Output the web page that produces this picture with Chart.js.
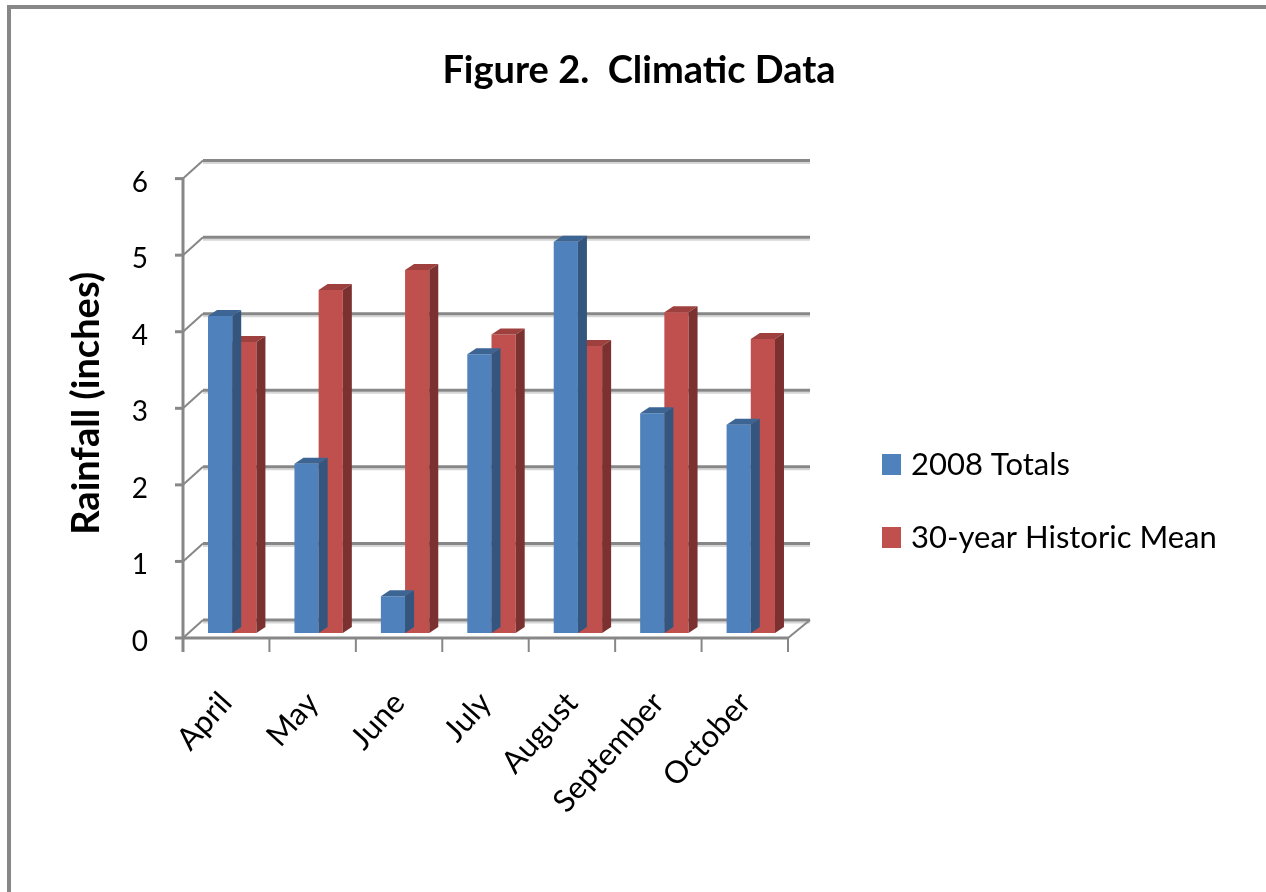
<!DOCTYPE html>
<html>
<head>
<meta charset="utf-8">
<script src="https://cdn.jsdelivr.net/npm/chart.js@4.4.1/dist/chart.umd.min.js"></script>
<style>
  html, body { margin: 0; padding: 0; background: #fff; }
  #wrap { width: 1266px; height: 892px; position: relative; }
</style>
</head>
<body>
<div id="wrap"><canvas id="rainChart"></canvas></div>
<script>
// Rainfall data (inches)
const months = ['April', 'May', 'June', 'July', 'August', 'September', 'October'];
const totals2008 = [4.14, 2.21, 0.48, 3.64, 5.11, 2.87, 2.72];
const historicMean = [3.80, 4.48, 4.74, 3.90, 3.75, 4.19, 3.84];
const seriesNames = ['2008 Totals', '30-year Historic Mean'];
const yMin = 0;
const yMax = 6;

// Face colours for the fake 3D columns
const faces = [
    { front: '#4f81bd', top: '#3d6594', side: '#33557e' },
    { front: '#c0504d', top: '#9e403e', side: '#7c3131' }
];
const lineGray = '#878787';
const shadowGray = '#d6d6d6';

// 3D offsets relative to the bar plane (the Chart.js scales)
const FRONT = { dx: -6, dy: 5 };
const BACK = { dx: 14, dy: -13 };
const DEPTH = { dx: 9, dy: -6 };

Chart.defaults.font.family = 'Lato, "Open Sans", sans-serif';
Chart.defaults.color = '#000';

function line(ctx, x1, y1, x2, y2, color, width) {
    ctx.beginPath();
    ctx.moveTo(x1, y1);
    ctx.lineTo(x2, y2);
    ctx.strokeStyle = color;
    ctx.lineWidth = width;
    ctx.stroke();
}

function poly(ctx, pts, color) {
    ctx.beginPath();
    ctx.moveTo(pts[0][0], pts[0][1]);
    for (let i = 1; i < pts.length; i++) ctx.lineTo(pts[i][0], pts[i][1]);
    ctx.closePath();
    ctx.fillStyle = color;
    ctx.fill();
}

// Walls, gridlines, axes, 3D faces, legend and the outer frame
const excel3d = {
    id: 'excel3d',
    beforeDraw(chart) {
        const ctx = chart.ctx;
        ctx.save();
        line(ctx, 9, 5, 9, chart.height, lineGray, 4);
        line(ctx, 7, 7, chart.width, 7, lineGray, 4);
        ctx.restore();
    },
    beforeDatasetsDraw(chart) {
        const ctx = chart.ctx;
        const y = chart.scales.y;
        const left = chart.chartArea.left;
        const right = chart.chartArea.right;
        ctx.save();
        ctx.lineCap = 'butt';
        for (let v = yMin; v <= yMax; v++) {
            const py = y.getPixelForValue(v);
            // back wall gridline with a soft shadow
            line(ctx, left + BACK.dx, py + BACK.dy + 2.5, right + BACK.dx + 2, py + BACK.dy + 2.5, shadowGray, 2);
            line(ctx, left + BACK.dx, py + BACK.dy, right + BACK.dx + 2, py + BACK.dy, lineGray, 3);
            // side wall connector
            line(ctx, left + FRONT.dx, py + FRONT.dy, left + BACK.dx, py + BACK.dy, lineGray, 2);
            // tick mark on the front axis
            line(ctx, left + FRONT.dx - 8, py + FRONT.dy, left + FRONT.dx, py + FRONT.dy, lineGray, 3);
        }
        const base = y.getPixelForValue(yMin);
        const top = y.getPixelForValue(yMax);
        // floor edges
        line(ctx, right + FRONT.dx, base + FRONT.dy, right + BACK.dx + 2, base + BACK.dy, lineGray, 2);
        line(ctx, left + FRONT.dx, base + FRONT.dy, right + FRONT.dx, base + FRONT.dy, lineGray, 3);
        line(ctx, left + FRONT.dx, top + FRONT.dy, left + FRONT.dx, base + FRONT.dy + 14, lineGray, 3);
        // category tick marks
        const n = months.length;
        for (let i = 0; i <= n; i++) {
            const px = left + (right - left) * i / n + FRONT.dx;
            line(ctx, px, base + FRONT.dy, px, base + FRONT.dy + 14, lineGray, 2);
        }
        ctx.restore();
    },
    afterDatasetDraw(chart, args) {
        const ctx = chart.ctx;
        const f = faces[args.index];
        ctx.save();
        args.meta.data.forEach(bar => {
            const p = bar.getProps(['x', 'y', 'base', 'width'], true);
            const l = p.x - p.width / 2;
            const r = p.x + p.width / 2;
            poly(ctx, [[l, p.y], [r, p.y], [r + DEPTH.dx, p.y + DEPTH.dy], [l + DEPTH.dx, p.y + DEPTH.dy]], f.top);
            poly(ctx, [[r, p.y], [r + DEPTH.dx, p.y + DEPTH.dy], [r + DEPTH.dx, p.base + DEPTH.dy], [r, p.base]], f.side);
        });
        ctx.restore();
    },
    afterDraw(chart) {
        const ctx = chart.ctx;
        ctx.save();
        ctx.font = '31px Lato, "Open Sans", sans-serif';
        ctx.textBaseline = 'middle';
        ctx.textAlign = 'left';
        const rows = [465, 538];
        chart.data.datasets.forEach((ds, i) => {
            ctx.fillStyle = ds.backgroundColor;
            ctx.fillRect(882, rows[i] - 11, 19, 21);
            ctx.fillStyle = '#000';
            ctx.fillText(ds.label, 911, rows[i]);
        });
        ctx.restore();
    }
};

const ctx = document.getElementById('rainChart').getContext('2d');
const chart = new Chart(ctx, {
    type: 'bar',
    data: {
        labels: months,
        datasets: [{
            label: seriesNames[0],
            data: totals2008,
            backgroundColor: faces[0].front,
            borderWidth: 0
        }, {
            label: seriesNames[1],
            data: historicMean,
            backgroundColor: faces[1].front,
            borderWidth: 0
        }]
    },
    options: {
        responsive: true,
        maintainAspectRatio: false,
        animation: false,
        datasets: {
            bar: {
                categoryPercentage: 0.56,
                barPercentage: 1
            }
        },
        layout: {
            padding: { left: 12, right: 0, top: 0, bottom: 0 }
        },
        scales: {
            x: {
                grid: { display: false, drawTicks: false },
                border: { display: false },
                ticks: {
                    font: { size: 31 },
                    color: '#000',
                    minRotation: 48,
                    maxRotation: 48,
                    autoSkip: false,
                    padding: 52,
                    labelOffset: -6
                },
                afterFit(scale) {
                    scale.height = 892 - 633;
                }
            },
            y: {
                min: yMin,
                max: yMax,
                grid: { display: false, drawTicks: false },
                border: { display: false },
                ticks: {
                    stepSize: 1,
                    font: { size: 28 },
                    color: '#000',
                    padding: 41,
                    labelOffset: 9
                },
                title: {
                    display: true,
                    text: 'Rainfall (inches)',
                    font: { size: 38, weight: 'bold' },
                    color: '#000',
                    padding: { top: 52, bottom: 0 }
                },
                afterFit(scale) {
                    scale.width = 189 - 12;
                }
            },
            // empty right-hand axis that keeps room for the legend
            legendRoom: {
                type: 'linear',
                position: 'right',
                display: true,
                grid: { display: false, drawTicks: false },
                border: { display: false },
                ticks: { display: false },
                afterFit(scale) {
                    scale.width = 1266 - 794;
                }
            }
        },
        plugins: {
            legend: { display: false },
            tooltip: { enabled: false },
            title: {
                display: true,
                text: 'Figure 2.  Climatic Data',
                font: { size: 38, weight: 'bold' },
                color: '#000',
                padding: { top: 48, bottom: 80 }
            }
        }
    },
    plugins: [excel3d]
});
</script>
</body>
</html>
